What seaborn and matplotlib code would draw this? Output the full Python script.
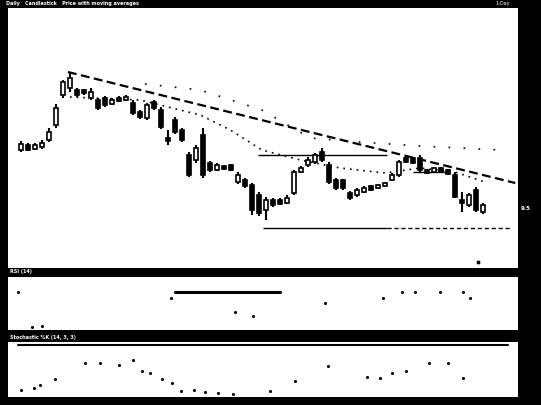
import numpy as np
import pandas as pd
import matplotlib
matplotlib.use('Agg')
import matplotlib.pyplot as plt
import seaborn as sns

sns.set_style('white')

# daily candles (open, high, low, close)
opens = [15.0, 15.5, 15.1, 15.3, 16.0, 17.5, 20.5, 21.2, 21.0, 21.0, 20.2, 20.0, 20.2, 19.6,
         20.2, 20.0, 19.7, 18.8, 18.2, 19.8, 19.0, 16.2, 18.0, 17.0, 14.5, 14.0, 16.5, 13.7,
         13.0, 13.4, 13.5, 11.8, 12.0, 11.5, 10.5, 9.0, 10.0, 10.0, 9.7, 10.7, 12.8, 13.5,
         13.8, 14.8, 13.5, 12.0, 12.0, 10.7, 10.5, 10.8, 11.4, 11.2, 11.4, 12.0, 12.5, 14.2,
         14.2, 14.2, 13.0, 12.8, 13.2, 13.0, 12.5, 10.0, 9.5, 11.0, 8.8]
highs = [15.9, 15.7, 15.7, 16.0, 17.2, 19.6, 22.0, 22.8, 21.2, 21.1, 21.2, 20.2, 20.4, 20.2,
         20.4, 20.5, 20.0, 19.0, 19.7, 20.0, 19.3, 17.0, 18.3, 17.2, 14.8, 15.5, 17.2, 13.9,
         13.7, 13.5, 13.6, 12.8, 12.2, 11.7, 10.8, 10.3, 10.2, 10.2, 10.5, 13.0, 13.4, 14.3,
         14.7, 15.2, 13.8, 12.2, 12.1, 10.9, 11.2, 11.4, 11.5, 11.6, 11.8, 12.7, 14.0, 14.4,
         14.3, 14.5, 13.1, 13.3, 13.3, 13.1, 12.8, 10.8, 10.7, 11.3, 9.7]
lows = [14.8, 14.9, 15.0, 15.1, 15.8, 17.2, 20.2, 20.8, 20.3, 20.5, 20.0, 19.0, 19.3, 19.5,
        19.8, 19.9, 18.5, 18.1, 18.0, 19.0, 17.1, 15.5, 16.6, 15.8, 12.3, 13.7, 12.2, 12.8,
        12.9, 13.0, 12.9, 11.6, 11.2, 8.5, 8.4, 8.0, 9.3, 9.5, 9.6, 10.5, 12.7, 13.3,
        13.6, 13.8, 11.6, 11.0, 11.0, 10.0, 10.3, 10.7, 10.9, 11.1, 11.3, 11.9, 12.3, 13.7,
        13.6, 12.8, 12.6, 12.7, 12.7, 12.5, 10.2, 8.8, 9.3, 8.8, 8.6]
closes = [15.6, 15.0, 15.5, 15.7, 16.8, 19.2, 21.8, 22.2, 20.5, 20.7, 20.8, 19.2, 19.5, 20.0,
          19.9, 20.3, 18.7, 18.3, 19.5, 19.2, 17.3, 15.9, 16.8, 16.0, 12.5, 15.2, 12.5, 13.0,
          13.5, 13.1, 13.0, 12.5, 11.4, 9.0, 8.7, 10.0, 9.5, 9.6, 10.2, 12.8, 13.2, 14.0,
          14.5, 14.0, 11.8, 11.2, 11.2, 10.2, 11.0, 11.2, 11.0, 11.5, 11.7, 12.5, 13.8, 13.8,
          13.7, 13.0, 12.7, 13.2, 12.8, 12.6, 10.3, 9.7, 10.5, 9.0, 9.5]

# moving averages (sparse readings, bar index / price)
ma_fast_x = [7, 17, 25.6, 29.9, 34.4, 39.9, 45.6, 52.0, 57.0, 62.0, 66.3]
ma_fast_y = [20.3, 20.0, 18.5, 17.0, 15.0, 14.0, 13.2, 12.7, 13.2, 12.8, 11.8]
ma_slow_x = [17.7, 25.6, 34.4, 41.3, 48.4, 57.0, 68.4]
ma_slow_y = [21.6, 21.0, 19.0, 16.2, 15.8, 15.4, 15.0]

# trendline and horizontal levels
trend_x = [6.7, 70.6]
trend_y = [22.8, 11.7]
resist_x = [33.9, 52.3]
resist_y = 14.5
support_x = [34.6, 52.3, 69.9]
support_y = 7.2
mid_x = [56.0, 61.0]
mid_y = 12.8
last_dot = (65.3, 3.8)

# lower panel 1 (RSI-style oscillator) readings
rsi_x = [-0.4, 1.6, 3.0, 21.4, 30.6, 33.1, 43.4, 51.7, 54.4, 56.3, 59.9, 63.1, 64.1]
rsi_y = [72, 5, 8, 60, 34, 27, 51, 60, 72, 72, 72, 72, 60]
rsi_line_x = [22.0, 37.0]
rsi_line_y = [72, 72]

# lower panel 2 (stochastic) readings
stoch_x = [0.0, 1.9, 2.7, 4.9, 9.1, 11.3, 14.0, 16.0, 17.3, 18.4, 20.1, 21.6, 22.9, 24.7,
           26.3, 28.1, 30.3, 35.6, 39.1, 43.9, 49.4, 51.3, 53.0, 55.0, 58.3, 61.0, 63.1]
stoch_y = [13, 16, 22, 33, 62, 62, 58, 67, 47, 44, 33, 25, 11, 13, 9, 7, 5, 11, 29, 56,
           36, 34, 44, 47, 62, 62, 35]
stoch_level = 94

W, H = 541, 405
fig = plt.figure(figsize=(W / 100, H / 100), dpi=100)
fig.patch.set_facecolor('black')

def box(x0, y0, x1, y1):
    return [x0 / W, 1 - y1 / H, (x1 - x0) / W, (y1 - y0) / H]

ax = fig.add_axes(box(8, 8, 518, 268))
ax2 = fig.add_axes(box(8, 277, 518, 330))
ax3 = fig.add_axes(box(8, 342, 518, 397))

for a in (ax, ax2, ax3):
    a.set_facecolor('white')
    a.set_xticks([])
    a.set_yticks([])
    for s in a.spines.values():
        s.set_visible(False)
    a.set_xlim(-1.86, 71)

df = pd.DataFrame({'open': opens, 'high': highs, 'low': lows, 'close': closes})
df['i'] = np.arange(len(df))
up = df['close'] >= df['open']

ax.vlines(df['i'], df['low'], df['high'], color='black', lw=1.5)
body_lo = df[['open', 'close']].min(axis=1)
body_h = (df['close'] - df['open']).abs().clip(lower=0.2)
ax.bar(df['i'][up], body_h[up], bottom=body_lo[up], width=0.7,
       facecolor='white', edgecolor='black', lw=1.2, zorder=3)
ax.bar(df['i'][~up], body_h[~up], bottom=body_lo[~up], width=0.7,
       facecolor='black', edgecolor='black', lw=1.2, zorder=3)

sns.lineplot(x=trend_x, y=trend_y, ax=ax, color='black', lw=1.6,
             linestyle=(0, (4, 2)))
sns.lineplot(x=ma_fast_x, y=ma_fast_y, ax=ax, color='black', lw=1.2,
             linestyle=(0, (1, 3)))
sns.lineplot(x=ma_slow_x, y=ma_slow_y, ax=ax, color='black', lw=1.2,
             linestyle=(0, (1, 8)))
ax.hlines(resist_y, resist_x[0], resist_x[1], color='black', lw=1.0)
ax.hlines(support_y, support_x[0], support_x[1], color='black', lw=1.0)
ax.hlines(support_y, support_x[1], support_x[2], color='black', lw=1.0,
          linestyles=(0, (3, 2)))
ax.hlines(mid_y, mid_x[0], mid_x[1], color='black', lw=1.0)
sns.scatterplot(x=[last_dot[0]], y=[last_dot[1]], ax=ax, color='black', s=8,
                linewidth=0)
ax.set_ylim(3.2, 29.2)

sns.scatterplot(x=rsi_x, y=rsi_y, ax=ax2, color='black', s=5, linewidth=0)
sns.lineplot(x=rsi_line_x, y=rsi_line_y, ax=ax2, color='black', lw=2.2)
ax2.set_ylim(0, 100)

sns.scatterplot(x=stoch_x, y=stoch_y, ax=ax3, color='black', s=5, linewidth=0)
ax3.axhline(stoch_level, xmin=0.02, xmax=0.98, color='black', lw=1.5)
ax3.set_ylim(0, 100)

# header strips
fig.text(6 / W, 1 - 4 / H, 'Daily   Candlestick   Price with moving averages',
         color='white', fontsize=3.5, va='center', weight='bold')
fig.text(495 / W, 1 - 4 / H, '1-Day', color='white', fontsize=3.5, va='center')
fig.text(10 / W, 1 - 272 / H, 'RSI (14)', color='white', fontsize=3.5,
         va='center', weight='bold')
fig.text(10 / W, 1 - 337 / H, 'Stochastic %K (14, 3, 3)', color='white',
         fontsize=3.5, va='center', weight='bold')
fig.text(521 / W, 1 - 208 / H, '9.5', color='white', fontsize=4, va='center',
         weight='bold')

fig.savefig('out.png', dpi=100, facecolor=fig.get_facecolor())
